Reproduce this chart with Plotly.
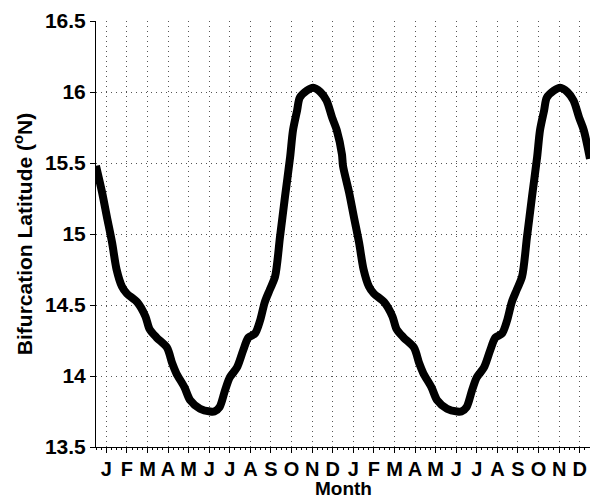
import plotly.graph_objects as go

# Month positions (months since start of first January) and bifurcation latitude (deg N)
month_pos_y1 = [0.0, 0.3, 0.53, 0.78, 1.0, 1.26, 1.5, 2.0, 2.4, 2.6, 2.95, 3.45, 3.7, 3.9,
                4.3, 4.57, 5.05, 5.55, 5.75, 6.0, 6.27, 6.5, 6.85, 7.15, 7.4, 7.73, 7.97,
                8.2, 8.45, 8.7, 8.94, 9.18, 9.43, 9.57, 9.77, 9.9, 10.25, 10.55, 10.9,
                11.2, 11.47, 11.7, 11.95]
lat_y1 = [15.48, 15.29, 15.12, 14.94, 14.75, 14.63, 14.58, 14.52, 14.42, 14.33, 14.27, 14.20,
          14.09, 14.02, 13.92, 13.83, 13.77, 13.75, 13.75, 13.78, 13.90, 13.99, 14.06, 14.18,
          14.27, 14.30, 14.39, 14.52, 14.61, 14.70, 14.98, 15.26, 15.54, 15.73, 15.87,
          15.96, 16.01, 16.03, 16.00, 15.94, 15.82, 15.73, 15.56]
month_pos_y2 = [12.0, 12.3, 12.53, 12.78, 13.0, 13.26, 13.5, 14.0, 14.4, 14.6, 14.95, 15.45,
                15.7, 15.9, 16.3, 16.57, 17.05, 17.55, 17.75, 18.0, 18.27, 18.5, 18.85, 19.15,
                19.4, 19.73, 19.97, 20.2, 20.45, 20.7, 20.94, 21.18, 21.43, 21.57, 21.77,
                21.9, 22.25, 22.55, 22.9, 23.2, 23.47, 23.7, 24.0]
lat_y2 = [15.48, 15.29, 15.12, 14.94, 14.75, 14.63, 14.58, 14.52, 14.42, 14.33, 14.27, 14.20,
          14.09, 14.02, 13.92, 13.83, 13.77, 13.75, 13.75, 13.78, 13.90, 13.99, 14.06, 14.18,
          14.27, 14.30, 14.39, 14.52, 14.61, 14.70, 14.98, 15.26, 15.54, 15.73, 15.87,
          15.96, 16.01, 16.03, 16.00, 15.94, 15.82, 15.73, 15.53]

month_ticks = [0.5 + i for i in range(24)]
month_labels = ["J", "F", "M", "A", "M", "J", "J", "A", "S", "O", "N", "D"] * 2
lat_ticks = [13.5, 14, 14.5, 15, 15.5, 16, 16.5]
lat_labels = ["13.5", "14", "14.5", "15", "15.5", "16", "16.5"]

x = month_pos_y1 + month_pos_y2
y = lat_y1 + lat_y2

font_family = "Liberation Sans, Arial, sans-serif"
W, H = 590, 500
M_L, M_R, M_T, M_B = 96, 0, 21, 53

fig = go.Figure()
fig.add_trace(go.Scatter(
    x=x, y=y, mode="lines",
    line=dict(color="black", width=8, shape="spline", smoothing=0.8),
    hoverinfo="skip", showlegend=False,
))

fig.update_layout(
    width=W, height=H,
    margin=dict(l=M_L, r=M_R, t=M_T, b=M_B),
    paper_bgcolor="white", plot_bgcolor="white",
    font=dict(family=font_family, color="black", size=21),
    xaxis=dict(
        range=[0, 24],
        tickmode="array", tickvals=month_ticks, ticktext=month_labels,
        ticks="outside", ticklen=5, tickwidth=1, tickcolor="black",
        tickfont=dict(size=20, weight="bold", family=font_family),
        ticklabelstandoff=-1,
        showline=True, linecolor="black", linewidth=1,
        showgrid=True, gridcolor="#555555", gridwidth=1, griddash="1px,4px",
        zeroline=False,
        minor=dict(ticks="outside", ticklen=2, tickcolor="black", dtick=0.25,
                   tick0=0, showgrid=False),
    ),
    yaxis=dict(
        range=[13.5, 16.5],
        tickmode="array", tickvals=lat_ticks, ticktext=lat_labels,
        ticks="outside", ticklen=5, tickwidth=1, tickcolor="black",
        tickfont=dict(size=21, weight="bold", family=font_family),
        showline=True, linecolor="black", linewidth=1,
        showgrid=True, gridcolor="#555555", gridwidth=1, griddash="1px,4px",
        zeroline=False,
        title=dict(text="Bifurcation Latitude (<sup>o</sup>N)",
                   font=dict(size=21, weight="bold", family=font_family),
                   standoff=6),
    ),
)

plot_h = H - M_T - M_B
fig.add_annotation(
    text="Month", xref="paper", yref="paper", x=0.5, y=-M_B / plot_h,
    xanchor="center", yanchor="bottom", showarrow=False, borderpad=0,
    font=dict(size=19, weight="bold", family=font_family, color="black"),
)

fig.write_html("out.html")
